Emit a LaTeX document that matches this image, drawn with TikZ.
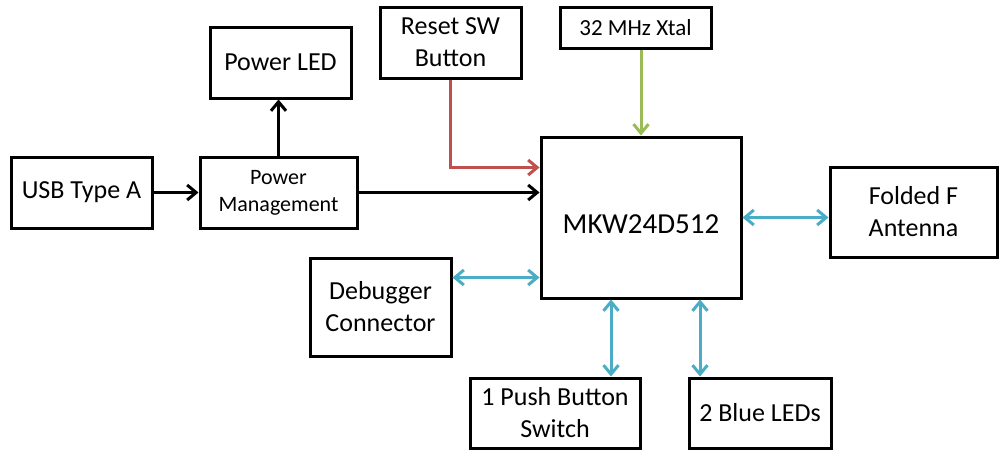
\documentclass[tikz,border=0pt]{standalone}
\usepackage{fontspec}
\setmainfont{Carlito}
\usetikzlibrary{arrows.meta}
\definecolor{rstred}{RGB}{192,80,77}
\definecolor{xtalgreen}{RGB}{155,187,89}
\definecolor{ioblue}{RGB}{75,172,198}

\begin{document}
\begin{tikzpicture}[x=1pt,y=-1pt,line width=3pt,
                    >={Straight Barb[length=9pt,width=15pt]}]
  \tikzstyle{block}=[draw,line width=3pt,align=center,inner sep=0pt,
                     font=\fontsize{26}{32}\selectfont]
  \tikzstyle{io}=[<->,draw=ioblue]
  \useasboundingbox (0,0) rectangle (1002,450);

  \node[block,minimum width=141pt,minimum height=71pt] (usb)  at (81.5,192.5) {USB Type A};
  \node[block,minimum width=157pt,minimum height=71pt,
        font=\fontsize{22}{27}\selectfont]             (pm)   at (278.5,192.5) {Power\\Management};
  \node[block,minimum width=141pt,minimum height=71pt] (led)  at (280.5,62.5) {Power LED};
  \node[block,minimum width=141pt,minimum height=71pt] (rst)  at (450.5,42.5) {Reset SW\\Button};
  \node[block,minimum width=151pt,minimum height=41pt,
        font=\fontsize{23}{28}\selectfont]             (xtal) at (635.5,27.5) {32 MHz Xtal};
  \node[block,minimum width=200pt,minimum height=161pt,
        font=\fontsize{29}{35}\selectfont]             (mkw)  at (641,217.5) {\raisebox{-16pt}[0pt][0pt]{MKW24D512}};
  \node[block,minimum width=167pt,minimum height=90pt] (ant)  at (913.5,212) {Folded F\\Antenna};
  \node[block,minimum width=141pt,minimum height=98pt] (dbg)  at (380.5,307) {Debugger\\Connector};
  \node[block,minimum width=170pt,minimum height=70pt] (psh)  at (555,413) {1 Push Button\\Switch};
  \node[block,minimum width=142pt,minimum height=70pt] (bled) at (760,413) {2 Blue LEDs};

  \coordinate (rstin) at ([yshift=50pt]mkw.west);
  \coordinate (dbgin) at ([yshift=-60pt]mkw.west);
  \coordinate (pshin) at ([xshift=-30pt]mkw.south);
  \coordinate (ledin) at ([xshift=59pt]mkw.south);

  % power path
  \draw[->] (usb) -- (pm);
  \draw[->] (pm.north) -- (pm.north |- led.south);
  \draw[->] (pm.east) -- (pm.east -| mkw.west);
  % reset and clock
  \draw[->,rstred] (rst.south) |- (rstin);
  \draw[->,xtalgreen] (mkw.north |- xtal.south) -- (mkw.north);
  % peripherals
  \draw[io] (mkw.east) -- (mkw.east -| ant.west);
  \draw[io] (dbg.east |- dbgin) -- (dbgin);
  \draw[io] (pshin) -- (pshin |- psh.north);
  \draw[io] (ledin) -- (ledin |- bled.north);
\end{tikzpicture}
\end{document}
